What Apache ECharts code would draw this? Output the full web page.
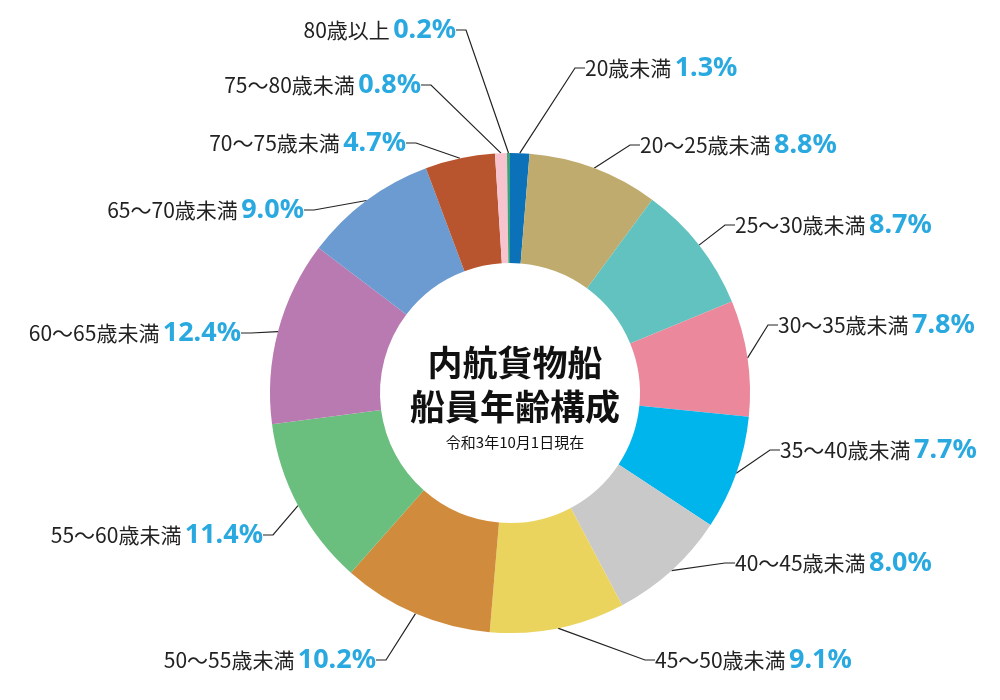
<!DOCTYPE html>
<html>
<head>
<meta charset="utf-8">
<script src="https://cdn.jsdelivr.net/npm/echarts@6/dist/echarts.min.js"></script>
<style>html,body{margin:0;padding:0;background:#fff}#main{width:1000px;height:700px}</style>
</head>
<body>
<div id="main"></div>
<script>
var names = ['20歳未満','20～25歳未満','25～30歳未満','30～35歳未満','35～40歳未満','40～45歳未満','45～50歳未満','50～55歳未満','55～60歳未満','60～65歳未満','65～70歳未満','70～75歳未満','75～80歳未満','80歳以上'];
var values = [1.3, 8.8, 8.7, 7.8, 7.7, 8.0, 9.1, 10.2, 11.4, 12.4, 9.0, 4.7, 0.8, 0.2];
var colors = ['#0b72b9','#c0ab6e','#62c2bf','#eb889b','#00b4ec','#c9c9c9','#ebd45e','#d08c3c','#6abe7e','#b87ab0','#6b9bd0','#b9552e','#f7c3cf','#3aa57a'];
// label anchor points (x, y, side)
var labelPos = [[585,68,'left'],[640,145,'left'],[735,225,'left'],[778,325,'left'],[780,450,'left'],[735,563,'left'],[655,660,'left'],
  [376,660,'right'],[263,535,'right'],[241,333,'right'],[304,210,'right'],[406,143,'right'],[421,85,'right'],[456,30,'right']];

var chart = echarts.init(document.getElementById('main'));
chart.setOption({
  animation: false,
  title: {
    text: '{a|内航貨物船}\n{a|船員年齢構成}\n{b|令和3年10月1日現在}',
    left: 510, top: 393, textAlign: 'center', textVerticalAlign: 'middle',
    textStyle: {
      rich: {
        a: {fontSize: 35, fontWeight: 'bold', color: '#111', lineHeight: 44, fontFamily: 'Noto Sans CJK JP'},
        b: {fontSize: 15, fontWeight: 'normal', color: '#111', lineHeight: 26, fontFamily: 'Noto Sans CJK JP'}
      }
    }
  },
  series: [{
    type: 'pie',
    center: [510, 393],
    radius: [130, 240],
    startAngle: 90,
    clockwise: true,
    color: colors,
    data: names.map(function (n, i) { return {name: n, value: values[i]}; }),
    label: {
      show: true,
      formatter: function (p) { return '{n|' + p.name + '} {v|' + p.value.toFixed(1) + '%}'; },
      rich: {
        n: {fontSize: 21, color: '#222', fontFamily: 'Noto Sans CJK JP'},
        v: {fontSize: 27, color: '#29a9e0', fontWeight: 'bold', fontFamily: 'Noto Sans'}
      }
    },
    labelLine: {show: true, length: 10, length2: 10, lineStyle: {color: '#222', width: 1.2}},
    labelLayout: function (p) {
      var lp = labelPos[p.dataIndex];
      return {x: lp[0], y: lp[1], align: lp[2], verticalAlign: 'middle'};
    }
  }]
});
</script>
</body>
</html>
